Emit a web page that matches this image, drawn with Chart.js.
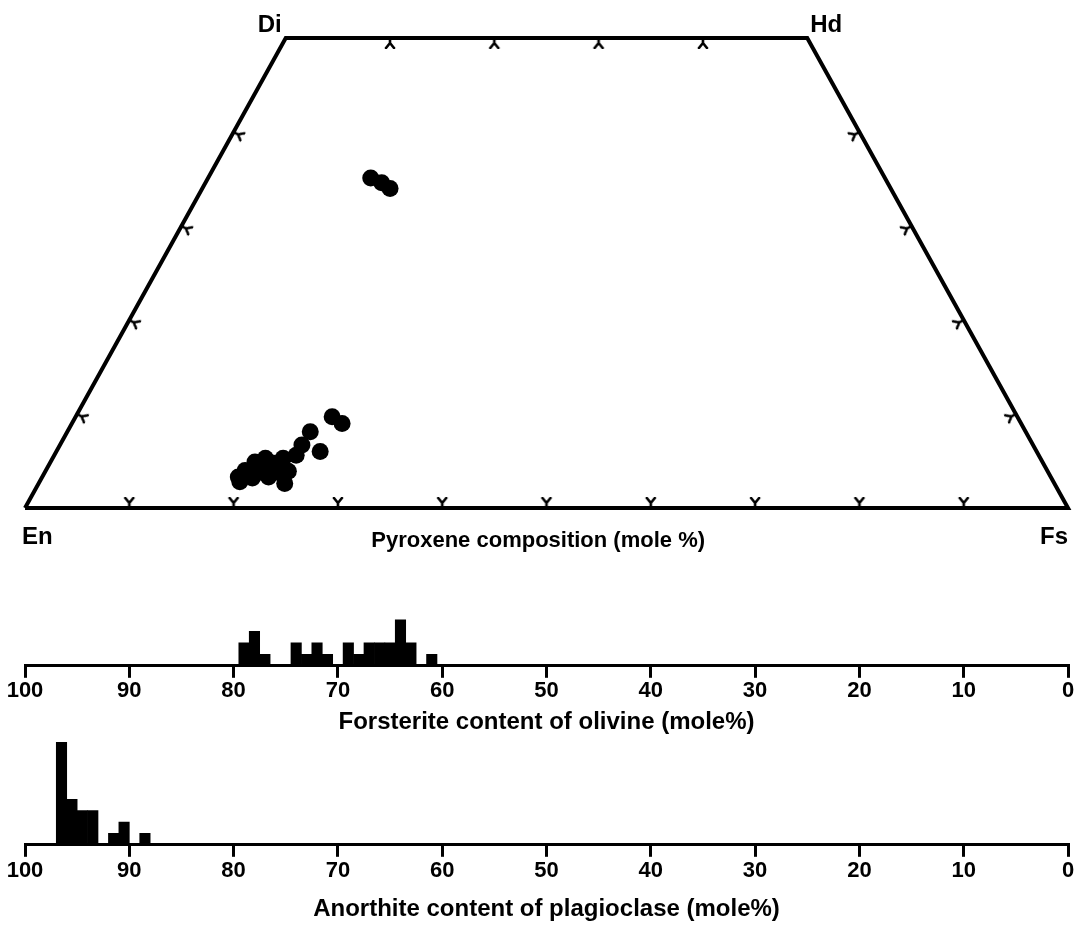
<!DOCTYPE html>
<html>
<head>
<meta charset="utf-8">
<script src="https://cdn.jsdelivr.net/npm/chart.js@4.4.0/dist/chart.umd.min.js"></script>
<style>
  body { margin: 0; background: #fff; width: 1080px; height: 930px; position: relative; overflow: hidden; }
  canvas { position: absolute; left: 0; }
  #pyxChart { top: 0; }
  #olChart { top: 570px; }
  #plChart { top: 740px; }
</style>
</head>
<body>
<canvas id="pyxChart" width="1080" height="570"></canvas>
<canvas id="olChart" width="1080" height="169"></canvas>
<canvas id="plChart" width="1080" height="186"></canvas>
<script>
// pyroxene compositions (mole %), Wo and Fs; En is the rest
const pyxWo = [35.1, 34.6, 34.0,
    9.7, 9.0, 8.1, 6.0, 6.7, 5.6, 2.6, 5.3, 3.9, 3.3,
    4.0, 4.9, 5.3, 4.8, 3.8, 3.8, 3.2, 2.8, 3.3, 4.3];
const pyxFs = [15.6, 16.9, 18.0,
    24.6, 25.9, 23.3, 25.3, 23.2, 23.2, 23.6, 22.1, 23.3, 18.8,
    19.1, 19.6, 20.4, 21.3, 22.1, 20.8, 20.2, 19.2, 21.7, 22.1];

// quadrilateral En - Di - Hd - Fs
const cornerWo = [0, 50, 50, 0, 0];
const cornerFs = [0, 0, 50, 100, 0];

// edge ticks, every 10 mole %
const bottomTickFs = [10, 20, 30, 40, 50, 60, 70, 80, 90];
const topTickFs = [10, 20, 30, 40];
const sideTickWo = [10, 20, 30, 40];

// olivine histogram (Fo mole %, count)
const olFo = [79, 78, 77, 74, 73, 72, 71, 69, 68, 67, 66, 65, 64, 63, 61];
const olCount = [2, 3, 1, 2, 1, 2, 1, 2, 1, 2, 2, 2, 4, 2, 1];

// plagioclase histogram (An mole %, count)
const plAn = [96.5, 95.5, 94.5, 93.5, 91.5, 90.5, 88.5];
const plCount = [9, 4, 3, 3, 1, 2, 1];

const FONT = '"Liberation Sans", Arial, sans-serif';

function toXY(wo, fs) {
    return { x: fs + wo / 2, y: wo };
}

// small "Y" shaped tick mark, pointing inward (up before rotation)
function makeTickMark() {
    const c = document.createElement('canvas');
    c.width = 22;
    c.height = 22;
    const g = c.getContext('2d');
    g.strokeStyle = '#000';
    g.lineWidth = 2.6;
    g.lineCap = 'round';
    g.beginPath();
    g.moveTo(11, 11);
    g.lineTo(11, 6);
    g.moveTo(7, 1);
    g.lineTo(11, 6);
    g.lineTo(15, 1);
    g.stroke();
    return c;
}
const tickMark = makeTickMark();

const tickPts = [];
const tickRot = [];
bottomTickFs.forEach(fs => { tickPts.push(toXY(0, fs)); tickRot.push(0); });
topTickFs.forEach(fs => { tickPts.push(toXY(50, fs)); tickRot.push(180); });
sideTickWo.forEach(wo => { tickPts.push(toXY(wo, 0)); tickRot.push(118.9); });
sideTickWo.forEach(wo => { tickPts.push(toXY(wo, 100 - wo)); tickRot.push(241.1); });

const pyxLabels = {
    id: 'pyxLabels',
    afterDatasetsDraw(chart) {
        const { ctx, scales: { x, y } } = chart;
        ctx.save();
        ctx.fillStyle = '#000';
        ctx.font = 'bold 24px ' + FONT;
        ctx.textBaseline = 'middle';
        ctx.textAlign = 'right';
        ctx.fillText('Di', x.getPixelForValue(25) - 4, y.getPixelForValue(50) - 13);
        ctx.fillText('Fs', x.getPixelForValue(100), y.getPixelForValue(0) + 29);
        ctx.textAlign = 'left';
        ctx.fillText('Hd', x.getPixelForValue(75) + 3, y.getPixelForValue(50) - 13);
        ctx.fillText('En', x.getPixelForValue(0) - 3, y.getPixelForValue(0) + 29);
        ctx.font = 'bold 22px ' + FONT;
        ctx.textAlign = 'center';
        ctx.fillText('Pyroxene composition (mole %)', x.getPixelForValue(49.2), y.getPixelForValue(0) + 33);
        ctx.restore();
    }
};

new Chart(document.getElementById('pyxChart').getContext('2d'), {
    type: 'scatter',
    data: {
        datasets: [{
            data: cornerWo.map((wo, i) => toXY(wo, cornerFs[i])),
            showLine: true,
            borderColor: '#000',
            borderWidth: 4,
            pointRadius: 0,
            clip: false
        }, {
            data: tickPts,
            pointStyle: tickMark,
            rotation: tickRot,
            clip: false
        }, {
            data: pyxWo.map((wo, i) => toXY(wo, pyxFs[i])),
            pointRadius: 8.5,
            backgroundColor: '#000',
            borderColor: '#000',
            borderWidth: 0
        }]
    },
    options: {
        responsive: false,
        animation: false,
        layout: { padding: { left: 25, right: 12, top: 38, bottom: 62 } },
        scales: {
            x: { type: 'linear', min: 0, max: 100, display: false },
            y: { type: 'linear', min: 0, max: 50, display: false }
        },
        plugins: { legend: { display: false }, tooltip: { enabled: false } }
    },
    plugins: [pyxLabels]
});

function createHistogram(id, values, counts, yMax, title, tickPad, titlePadTop, padTop) {
    const ctx = document.getElementById(id).getContext('2d');
    return new Chart(ctx, {
        type: 'bar',
        data: {
            datasets: [{
                data: values.map((v, i) => ({ x: v, y: counts[i] })),
                backgroundColor: '#000',
                borderWidth: 0,
                barPercentage: 1,
                categoryPercentage: 1
            }]
        },
        options: {
            responsive: false,
            animation: false,
            layout: { padding: { left: 25, right: 12, top: padTop, bottom: 0 } },
            scales: {
                x: {
                    type: 'linear',
                    reverse: true,
                    offset: false,
                    min: 0,
                    max: 100,
                    grid: {
                        offset: false,
                        drawOnChartArea: false,
                        drawTicks: true,
                        tickLength: 12,
                        lineWidth: 3,
                        color: '#000'
                    },
                    border: { display: true, color: '#000', width: 3 },
                    ticks: {
                        stepSize: 10,
                        color: '#000',
                        padding: tickPad,
                        maxRotation: 0,
                        font: { family: FONT, size: 22, weight: 'bold' }
                    },
                    title: {
                        display: true,
                        text: title,
                        color: '#000',
                        padding: { top: titlePadTop, bottom: 2 },
                        font: { family: FONT, size: 24, weight: 'bold' }
                    }
                },
                y: { min: 0, max: yMax, display: false }
            },
            plugins: { legend: { display: false }, tooltip: { enabled: false } }
        }
    });
}

createHistogram('olChart', olFo, olCount, 8, 'Forsterite content of olivine (mole%)', 0, 4, 4);
createHistogram('plChart', plAn, plCount, 9.2, 'Anorthite content of plagioclase (mole%)', 1, 10, 0);
</script>
</body>
</html>
